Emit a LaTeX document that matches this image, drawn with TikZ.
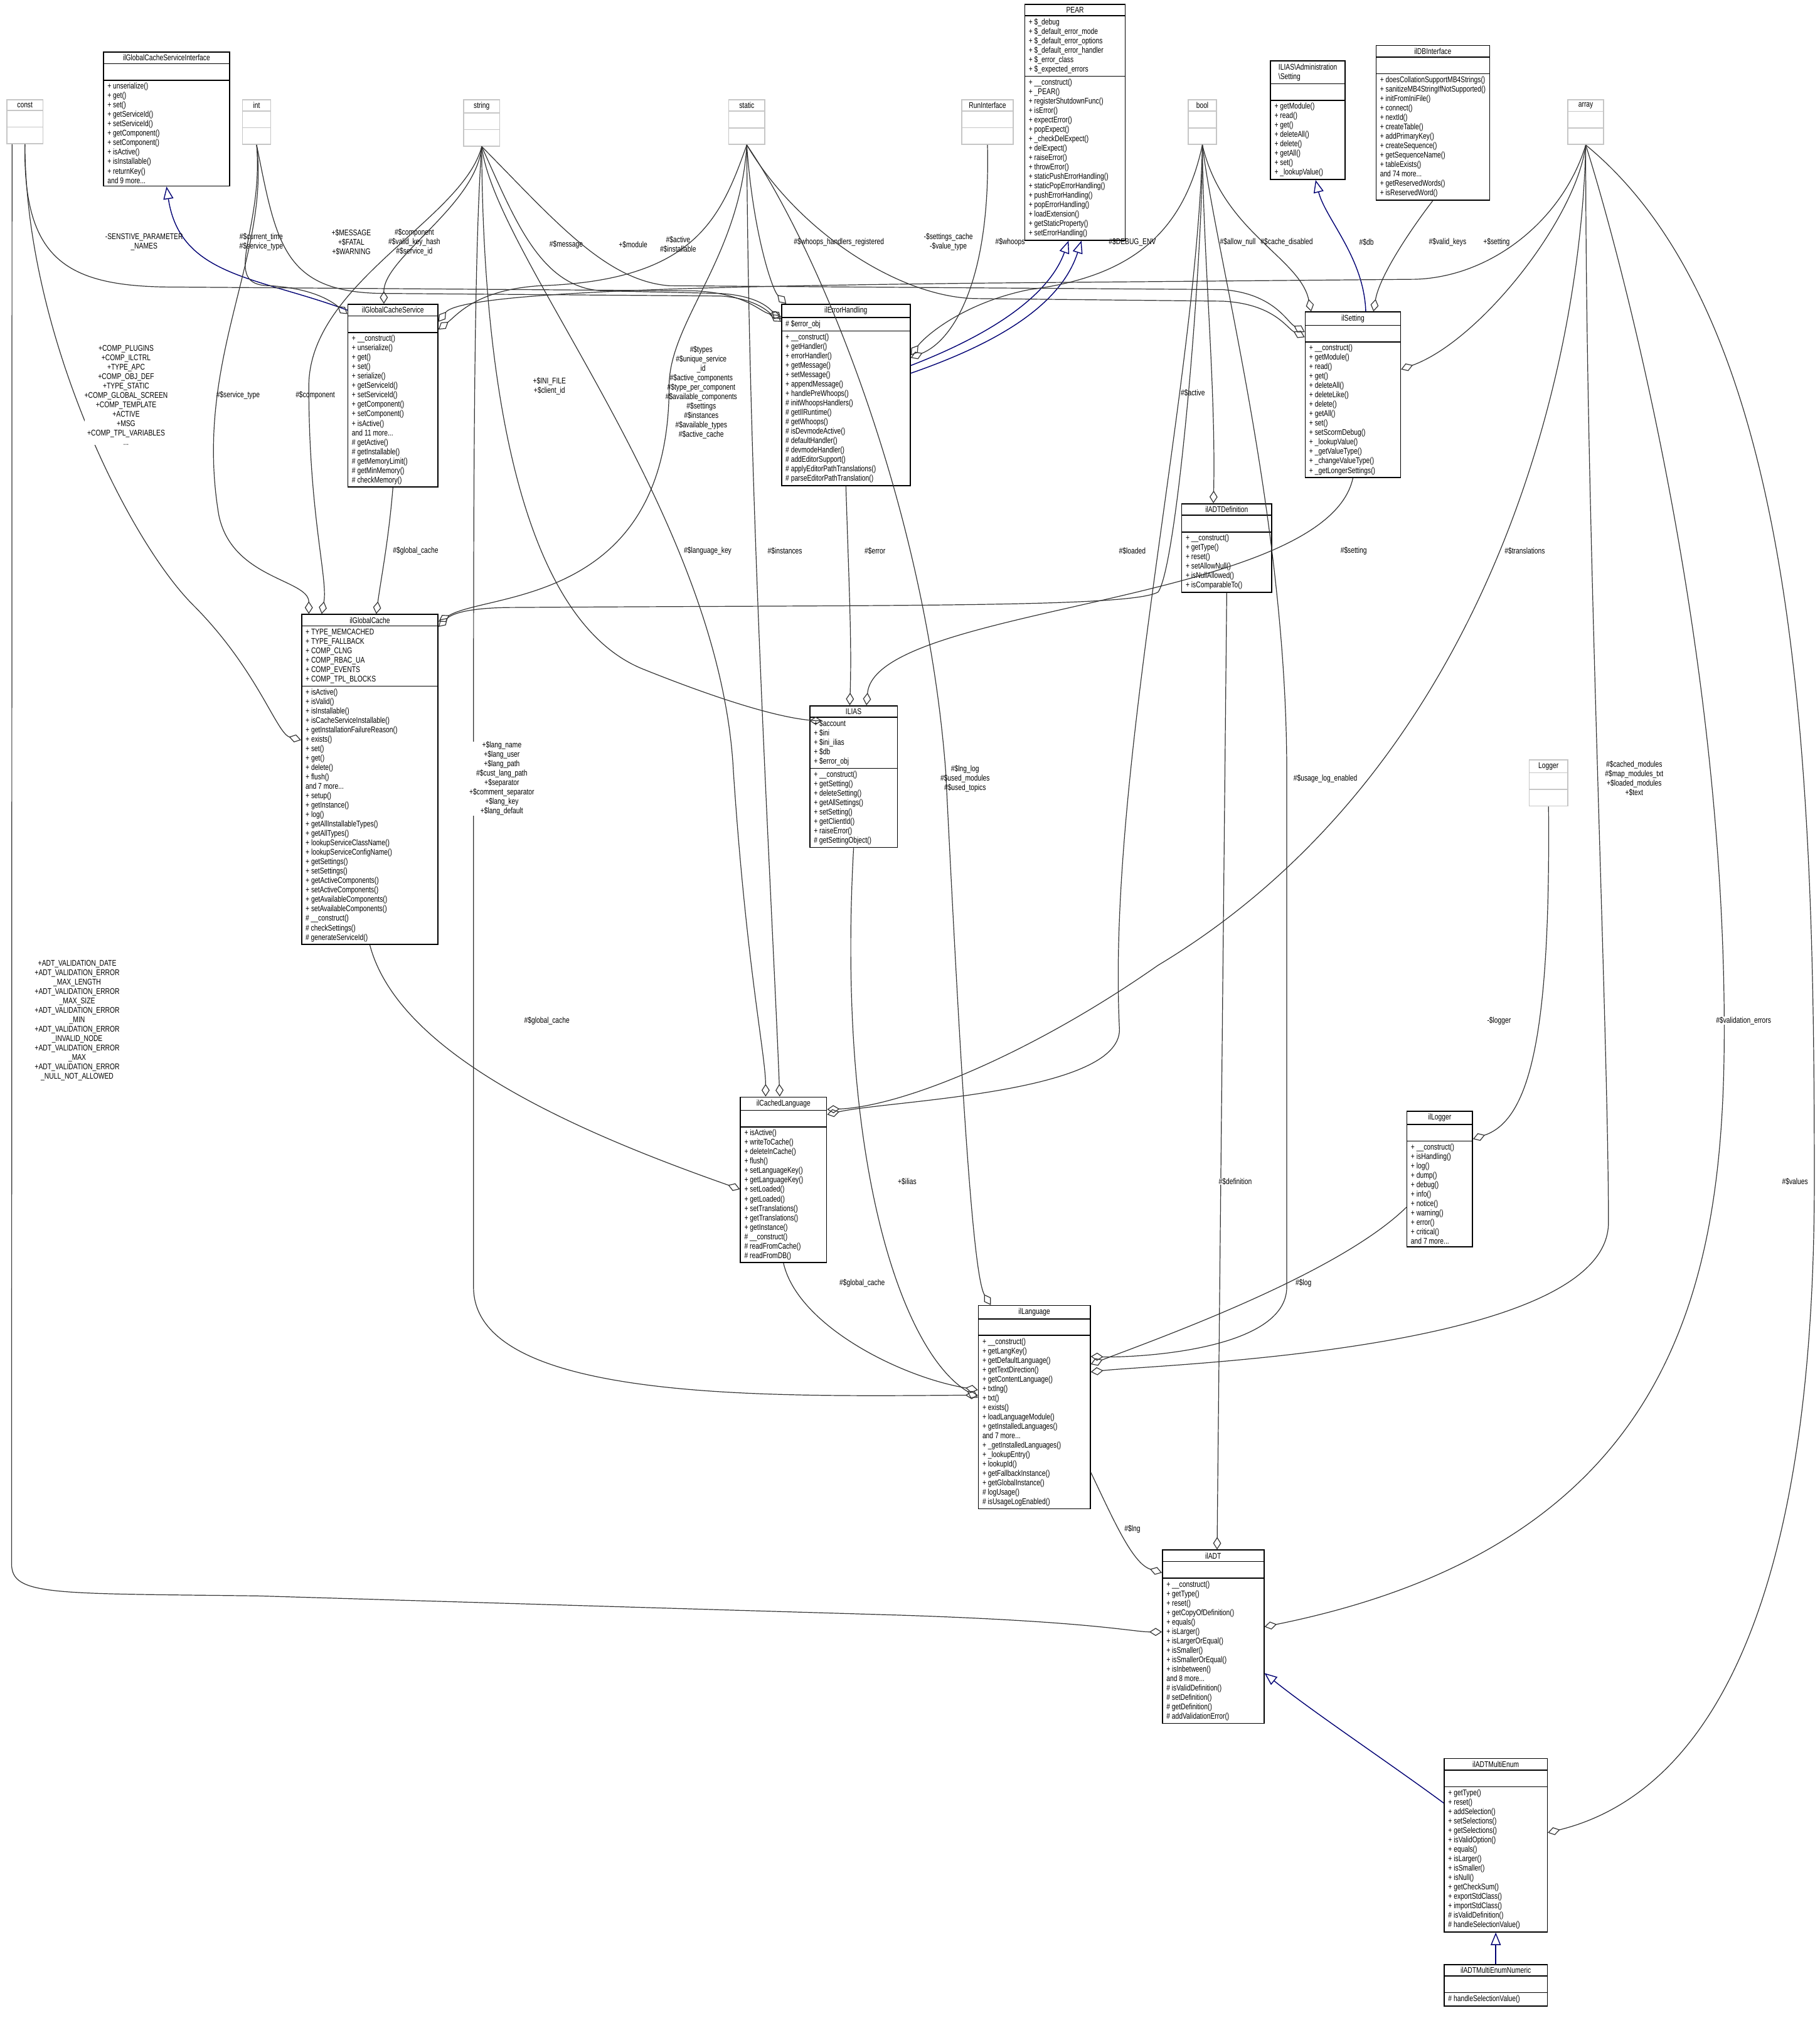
\documentclass[tikz,border=0pt]{standalone}
\usepackage{fontspec}
\setmainfont{Liberation Sans}[FakeStretch=0.78]
\usetikzlibrary{shapes.multipart,arrows.meta,calc}
\newcommand\fs{\fontsize{3.3}{3.75}\selectfont}
\newcommand\emp{\rule{0pt}{4.4pt}}
\newcommand\mkcls[7][cls]{\node[#1] (#2) at (#3,#4) {#5\nodepart{second}#6\nodepart{third}#7};}
\tikzset{
 cls/.style={draw=black, rectangle split, rectangle split parts=3, anchor=north west,
   inner xsep=1.6pt, inner ysep=0.9pt, font=\fs, align=left, fill=white, line width=0.4pt,
   rectangle split part align={center,left,left}},
 gcls/.style={cls, draw=gray!45, minimum width=14.3pt},
 agg/.style={draw=black!80, line width=0.3pt, -{Diamond[open,length=5pt,width=3.2pt]}},
 inh/.style={draw=blue!45!black, line width=0.35pt, -{Triangle[open,length=5pt,width=4pt]}},
 lbl/.style={font=\fs, align=center, inner sep=0pt},
}
\begin{document}
\begin{tikzpicture}[x=0.512pt,y=-0.512pt]
\useasboundingbox (0,0) rectangle (1414,1568);
% type boxes
\mkcls[gcls]{const}{5}{77}{const}{\emp}{\emp}
\mkcls[gcls,minimum width=11.3pt]{int}{188}{77}{int}{\emp}{\emp}
\mkcls[gcls]{string}{360}{77}{string}{\emp}{\emp}
\mkcls[gcls]{static}{566}{77}{static}{\emp}{\emp}
\mkcls[gcls,minimum width=20.5pt]{ri}{747}{77}{RunInterface}{\emp}{\emp}
\mkcls[gcls,minimum width=11.3pt]{bool}{923}{77}{bool}{\emp}{\emp}
\mkcls[gcls]{array}{1218}{77}{array}{\emp}{\emp}
\mkcls[gcls,minimum width=15.4pt]{logger}{1188}{590}{Logger}{\emp}{\emp}
% classes
\mkcls[cls,minimum width=50.2pt]{gcsi}{80}{40}{ilGlobalCacheServiceInterface}{\emp}{+ unserialize()\\+ get()\\+ set()\\+ getServiceId()\\+ setServiceId()\\+ getComponent()\\+ setComponent()\\+ isActive()\\+ isInstallable()\\+ returnKey()\\and 9 more...}
\mkcls[cls,minimum width=40pt]{pear}{796}{3}{PEAR}{+ \$\_debug\\+ \$\_default\_error\_mode\\+ \$\_default\_error\_options\\+ \$\_default\_error\_handler\\+ \$\_error\_class\\+ \$\_expected\_errors}{+ \_\_construct()\\+ \_PEAR()\\+ registerShutdownFunc()\\+ isError()\\+ expectError()\\+ popExpect()\\+ \_checkDelExpect()\\+ delExpect()\\+ raiseError()\\+ throwError()\\+ staticPushErrorHandling()\\+ staticPopErrorHandling()\\+ pushErrorHandling()\\+ popErrorHandling()\\+ loadExtension()\\+ getStaticProperty()\\+ setErrorHandling()}
\mkcls[cls,minimum width=29.7pt]{admset}{987}{47}{ILIAS\textbackslash Administration\\\textbackslash Setting}{\emp}{+ getModule()\\+ read()\\+ get()\\+ deleteAll()\\+ delete()\\+ getAll()\\+ set()\\+ \_lookupValue()}
\mkcls[cls,minimum width=44.5pt]{db}{1069}{35}{ilDBInterface}{\emp}{+ doesCollationSupportMB4Strings()\\+ sanitizeMB4StringIfNotSupported()\\+ initFromIniFile()\\+ connect()\\+ nextId()\\+ createTable()\\+ addPrimaryKey()\\+ createSequence()\\+ getSequenceName()\\+ tableExists()\\and 74 more...\\+ getReservedWords()\\+ isReservedWord()}
\mkcls[cls,minimum width=35.8pt]{gcs}{270}{236}{ilGlobalCacheService}{\emp}{+ \_\_construct()\\+ unserialize()\\+ get()\\+ set()\\+ serialize()\\+ getServiceId()\\+ setServiceId()\\+ getComponent()\\+ setComponent()\\+ isActive()\\and 11 more...\\\# getActive()\\\# getInstallable()\\\# getMemoryLimit()\\\# getMinMemory()\\\# checkMemory()}
\mkcls[cls,minimum width=51.2pt]{eh}{607}{236}{ilErrorHandling}{\# \$error\_obj}{+ \_\_construct()\\+ getHandler()\\+ errorHandler()\\+ getMessage()\\+ setMessage()\\+ appendMessage()\\+ handlePreWhoops()\\\# initWhoopsHandlers()\\\# getIlRuntime()\\\# getWhoops()\\\# isDevmodeActive()\\\# defaultHandler()\\\# devmodeHandler()\\\# addEditorSupport()\\\# applyEditorPathTranslations()\\\# parseEditorPathTranslation()}
\mkcls[cls,minimum width=37.9pt]{ils}{1014}{242}{ilSetting}{\emp}{+ \_\_construct()\\+ getModule()\\+ read()\\+ get()\\+ deleteAll()\\+ deleteLike()\\+ delete()\\+ getAll()\\+ set()\\+ setScormDebug()\\+ \_lookupValue()\\+ \_getValueType()\\+ \_changeValueType()\\+ \_getLongerSettings()}
\mkcls[cls,minimum width=35.8pt]{adtd}{918}{391}{ilADTDefinition}{\emp}{+ \_\_construct()\\+ getType()\\+ reset()\\+ setAllowNull()\\+ isNullAllowed()\\+ isComparableTo()}
\mkcls[cls,minimum width=54.3pt]{gc}{234}{477}{ilGlobalCache}{+ TYPE\_MEMCACHED\\+ TYPE\_FALLBACK\\+ COMP\_CLNG\\+ COMP\_RBAC\_UA\\+ COMP\_EVENTS\\+ COMP\_TPL\_BLOCKS}{+ isActive()\\+ isValid()\\+ isInstallable()\\+ isCacheServiceInstallable()\\+ getInstallationFailureReason()\\+ exists()\\+ set()\\+ get()\\+ delete()\\+ flush()\\and 7 more...\\+ setup()\\+ getInstance()\\+ log()\\+ getAllInstallableTypes()\\+ getAllTypes()\\+ lookupServiceClassName()\\+ lookupServiceConfigName()\\+ getSettings()\\+ setSettings()\\+ getActiveComponents()\\+ setActiveComponents()\\+ getAvailableComponents()\\+ setAvailableComponents()\\\# \_\_construct()\\\# checkSettings()\\\# generateServiceId()}
\mkcls[cls,minimum width=34.8pt]{ilias}{629}{548}{ILIAS}{+ \$account\\+ \$ini\\+ \$ini\_ilias\\+ \$db\\+ \$error\_obj}{+ \_\_construct()\\+ getSetting()\\+ deleteSetting()\\+ getAllSettings()\\+ setSetting()\\+ getClientId()\\+ raiseError()\\\# getSettingObject()}
\mkcls[cls,minimum width=34.3pt]{cl}{575}{852}{ilCachedLanguage}{\emp}{+ isActive()\\+ writeToCache()\\+ deleteInCache()\\+ flush()\\+ setLanguageKey()\\+ getLanguageKey()\\+ setLoaded()\\+ getLoaded()\\+ setTranslations()\\+ getTranslations()\\+ getInstance()\\\# \_\_construct()\\\# readFromCache()\\\# readFromDB()}
\mkcls[cls,minimum width=26.1pt]{ill}{1093}{863}{ilLogger}{\emp}{+ \_\_construct()\\+ isHandling()\\+ log()\\+ dump()\\+ debug()\\+ info()\\+ notice()\\+ warning()\\+ error()\\+ critical()\\and 7 more...}
\mkcls[cls,minimum width=44.5pt]{il}{760}{1014}{ilLanguage}{\emp}{+ \_\_construct()\\+ getLangKey()\\+ getDefaultLanguage()\\+ getTextDirection()\\+ getContentLanguage()\\+ txtlng()\\+ txt()\\+ exists()\\+ loadLanguageModule()\\+ getInstalledLanguages()\\and 7 more...\\+ \_getInstalledLanguages()\\+ \_lookupEntry()\\+ lookupId()\\+ getFallbackInstance()\\+ getGlobalInstance()\\\# logUsage()\\\# isUsageLogEnabled()}
\mkcls[cls,minimum width=40.4pt]{adt}{903}{1204}{ilADT}{\emp}{+ \_\_construct()\\+ getType()\\+ reset()\\+ getCopyOfDefinition()\\+ equals()\\+ isLarger()\\+ isLargerOrEqual()\\+ isSmaller()\\+ isSmallerOrEqual()\\+ isInbetween()\\and 8 more...\\\# isValidDefinition()\\\# setDefinition()\\\# getDefinition()\\\# addValidationError()}
\mkcls[cls,minimum width=41pt]{ame}{1122}{1366}{ilADTMultiEnum}{\emp}{+ getType()\\+ reset()\\+ addSelection()\\+ setSelections()\\+ getSelections()\\+ isValidOption()\\+ equals()\\+ isLarger()\\+ isSmaller()\\+ isNull()\\+ getCheckSum()\\+ exportStdClass()\\+ importStdClass()\\\# isValidDefinition()\\\# handleSelectionValue()}
\mkcls[cls,minimum width=41pt,rectangle split part fill={gray!55,white,white}]{amen}{1122}{1526}{ilADTMultiEnumNumeric}{\emp}{\# handleSelectionValue()}

% inheritance
\draw[inh] ($(gcs.north west)+(0,5)$) .. controls (200,215) and (140,215) .. (gcsi.south);
\draw[inh] ($(eh.north east)+(0,48)$) .. controls (770,260) and (815,230) .. ($(pear.south)+(-5,0)$);
\draw[inh] ($(eh.north east)+(0,54)$) .. controls (780,265) and (825,235) .. ($(pear.south)+(5,0)$);
\draw[inh] ($(ils.north)+(10,0)$) .. controls (1060,200) and (1030,170) .. ($(admset.south)+(6,0)$);
\draw[inh] ($(ame.north west)+(0,35)$) .. controls (1080,1370) and (1020,1330) .. ($(adt.north east)+(0,96)$);
\draw[inh] (amen.north) -- (ame.south);

% aggregations
\draw[agg] (const.south) .. controls (18,200) and (50,222) .. (130,223) -- (540,226) .. controls (580,228) and (590,242) .. ($(eh.north west)+(0,10)$);
\node[lbl] (l1) at (112,188) {-SENSTIVE\_PARAMETER\\\_NAMES};
\draw[agg] (int.south) .. controls (205,180) and (170,222) .. (210,222) .. controls (240,224) and (255,232) .. ($(gcs.north west)+(0,8)$);
\node[lbl] (l2) at (203,188) {\#\$current\_time\\\#\$service\_type};
\draw[agg] (int.south) .. controls (215,190) and (220,228) .. (300,228) -- (560,230) .. controls (590,232) and (600,245) .. ($(eh.north west)+(0,14)$);
\node[lbl] (l3) at (273,188) {+\$MESSAGE\\+\$FATAL\\+\$WARNING};
\draw[agg] (int.south) .. controls (210,200) and (150,280) .. (170,400) .. controls (180,450) and (240,450) .. ($(gc.north west)+(6,0)$);
\node[lbl] (l4) at (185,307) {\#\$service\_type};
\draw[agg] (string.south) .. controls (370,160) and (298,200) .. ($(gcs.north)+(-7,0)$);
\node[lbl] (l5) at (322,188) {\#\$component\\\#\$valid\_key\_hash\\\#\$service\_id};
\draw[agg] (string.south) .. controls (360,170) and (240,220) .. (240,300) .. controls (240,400) and (255,450) .. ($(gc.north west)+(16,0)$);
\node[lbl] (l6) at (245,307) {\#\$component};
\draw[agg] (string.south) .. controls (400,170) and (420,225) .. (470,226) -- (560,228) .. controls (590,230) and (598,240) .. ($(eh.north west)+(0,12)$);
\node[lbl] (l7) at (440,190) {\#\$message};
\draw[agg] (string.south) .. controls (430,170) and (470,218) .. (520,222) -- (950,225) .. controls (990,228) and (1000,250) .. ($(ils.north west)+(0,16)$);
\node[lbl] (l8) at (492,190) {+\$module};
\draw[agg] (string.south) .. controls (375,280) and (400,480) .. (500,520) .. controls (600,560) and (630,560) .. ($(ilias.north west)+(0,12)$);
\node[lbl] (l9) at (427,300) {+\$INI\_FILE\\+\$client\_id};
\draw[agg] (string.south) .. controls (385,200) and (560,400) .. (570,600) .. controls (580,750) and (595,820) .. ($(cl.north west)+(20,0)$);
\node[lbl] (l10) at (550,428) {\#\$language\_key};
\draw[agg] (string.south) .. controls (368,200) and (368,400) .. (368,600) -- (368,1000) .. controls (368,1090) and (600,1085) .. ($(il.north west)+(0,70)$);
\node[lbl,fill=white] (l11) at (390,605) {+\$lang\_name\\+\$lang\_user\\+\$lang\_path\\\#\$cust\_lang\_path\\+\$separator\\+\$comment\_separator\\+\$lang\_key\\+\$lang\_default};
\draw[agg] (static.south) .. controls (560,170) and (540,218) .. (420,222) .. controls (370,225) and (355,245) .. ($(gcs.north east)+(0,20)$);
\node[lbl] (l12) at (527,190) {\#\$active\\\#\$installable};
\draw[agg] (static.south) .. controls (585,180) and (600,225) .. ($(eh.north west)+(4,0)$);
\node[lbl] (l13) at (652,188) {\#\$whoops\_handlers\_registered};
\draw[agg] (static.south) .. controls (575,200) and (520,250) .. (520,300) .. controls (520,470) and (380,460) .. ($(gc.north east)+(0,6)$);
\node[lbl] (l14) at (545,305) {\#\$types\\\#\$unique\_service\\\_id\\\#\$active\_components\\\#\$type\_per\_component\\\#\$available\_components\\\#\$settings\\\#\$instances\\\#\$available\_types\\\#\$active\_cache};
\draw[agg] (static.south) .. controls (582,400) and (600,700) .. ($(cl.north west)+(31,0)$);
\node[lbl] (l15) at (610,428) {\#\$instances};
\draw[agg] (static.south) .. controls (620,180) and (700,232) .. (760,232) -- (950,234) .. controls (990,236) and (1000,255) .. ($(ils.north west)+(0,20)$);
\node[lbl] (l16) at (737,188) {-\$settings\_cache\\-\$value\_type};
\draw[agg] (static.south) .. controls (640,200) and (720,400) .. (735,600) .. controls (745,800) and (755,990) .. ($(il.north west)+(10,0)$);
\node[lbl] (l17) at (750,605) {\#\$lng\_log\\\#\$used\_modules\\\#\$used\_topics};
\draw[agg] (ri.south) .. controls (770,220) and (740,265) .. ($(eh.north east)+(0,42)$);
\node[lbl] (l18) at (785,188) {\#\$whoops};
\draw[agg] (bool.south) .. controls (920,180) and (880,215) .. (800,225) .. controls (750,235) and (720,260) .. ($(eh.north east)+(0,40)$);
\node[lbl] (l19) at (880,188) {\#\$DEBUG\_ENV};
\draw[agg] (bool.south) .. controls (950,180) and (1010,200) .. ($(ils.north west)+(5,0)$);
\node[lbl] (l20) at (1000,188) {\#\$cache\_disabled};
\draw[agg] (bool.south) .. controls (935,200) and (945,300) .. ($(adtd.north west)+(25,0)$);
\node[lbl] (l21) at (962,188) {\#\$allow\_null};
\draw[agg] (bool.south) .. controls (935,200) and (915,440) .. (900,460) .. controls (880,472) and (700,470) .. (400,472) .. controls (360,472) and (350,478) .. ($(gc.north east)+(0,10)$);
\node[lbl] (l22) at (927,305) {\#\$active};
\draw[agg] (bool.south) .. controls (930,300) and (860,600) .. (870,800) .. controls (870,850) and (690,855) .. ($(cl.north east)+(0,14)$);
\node[lbl] (l23) at (880,428) {\#\$loaded};
\draw[agg] (bool.south) .. controls (945,200) and (1000,400) .. (1000,600) -- (1000,1000) .. controls (1000,1050) and (880,1055) .. ($(il.north east)+(0,40)$);
\node[lbl,fill=white] (l24) at (1030,605) {\#\$usage\_log\_enabled};
\draw[agg] (db.south) .. controls (1095,180) and (1072,215) .. ($(ils.north)+(16,0)$);
\node[lbl] (l25) at (1062,188) {\#\$db};
\draw[agg] (array.south) .. controls (1215,170) and (1160,215) .. (1100,217) -- (760,220) .. controls (600,222) and (360,225) .. ($(gcs.north east)+(0,14)$);
\node[lbl] (l26) at (1125,188) {\#\$valid\_keys};
\draw[agg] (array.south) .. controls (1225,170) and (1150,265) .. ($(ils.north east)+(0,45)$);
\node[lbl] (l27) at (1163,188) {+\$setting};
\draw[agg] (array.south) .. controls (1228,300) and (1150,600) .. (900,750) .. controls (800,820) and (700,860) .. ($(cl.north east)+(0,10)$);
\node[lbl,fill=white] (l28) at (1185,428) {\#\$translations};
\draw[agg] (array.south) .. controls (1232,400) and (1250,800) .. (1250,950) .. controls (1250,1050) and (900,1060) .. ($(il.north east)+(0,52)$);
\node[lbl,fill=white] (l29) at (1270,605) {\#\$cached\_modules\\\#\$map\_modules\_txt\\+\$loaded\_modules\\+\$text};
\draw[agg] (array.south) .. controls (1260,200) and (1340,500) .. (1340,800) .. controls (1340,1000) and (1300,1200) .. ($(adt.north east)+(0,60)$);
\node[lbl,fill=white] (l30) at (1355,793) {\#\$validation\_errors};
\draw[agg] (array.south) .. controls (1400,250) and (1410,600) .. (1410,918) .. controls (1410,1300) and (1300,1400) .. ($(ame.north east)+(0,58)$);
\node[lbl,fill=white] (l31) at (1395,918) {\#\$values};
\draw[agg] (gcs.south) .. controls (302,420) and (296,450) .. ($(gc.north)+(5,0)$);
\node[lbl] (l32) at (323,428) {\#\$global\_cache};
\draw[agg] (gc.south) .. controls (310,820) and (450,880) .. ($(cl.north west)+(0,72)$);
\node[lbl,fill=white] (l33) at (425,793) {\#\$global\_cache};
\draw[agg] (cl.south) .. controls (620,1030) and (700,1070) .. ($(il.north west)+(0,66)$);
\node[lbl,fill=white] (l34) at (670,997) {\#\$global\_cache};
\draw[agg] (eh.south) .. controls (660,460) and (662,500) .. ($(ilias.north)+(-3,0)$);
\node[lbl,fill=white] (l35) at (680,428) {\#\$error};
\draw[agg] (ils.south) .. controls (1030,470) and (680,470) .. ($(ilias.north)+(10,0)$);
\node[lbl,fill=white] (l36) at (1052,428) {\#\$setting};
\draw[agg] (ilias.south) .. controls (650,900) and (700,1050) .. ($(il.north west)+(0,72)$);
\node[lbl,fill=white] (l37) at (705,918) {+\$ilias};
\draw[agg] (logger.south) .. controls (1205,800) and (1190,870) .. ($(ill.north east)+(0,22)$);
\node[lbl,fill=white] (l38) at (1165,793) {-\$logger};
\draw[agg] ($(ill.north west)+(0,75)$) .. controls (1040,990) and (900,1040) .. ($(il.north east)+(0,46)$);
\node[lbl,fill=white] (l39) at (1013,997) {\#\$log};
\draw[agg] ($(il.north east)+(0,130)$) .. controls (865,1180) and (880,1215) .. ($(adt.north west)+(0,18)$);
\node[lbl,fill=white] (l40) at (880,1188) {\#\$lng};
\draw[agg] (adtd.south) -- ($(adt.north)+(3,0)$);
\node[lbl,fill=white] (l41) at (960,918) {\#\$definition};
\draw[agg] (const.south) .. controls (20,260) and (100,420) .. (150,470) .. controls (200,520) and (215,570) .. ($(gc.north west)+(0,98)$);
\node[lbl,fill=white] (l42) at (98,307) {+COMP\_PLUGINS\\+COMP\_ILCTRL\\+TYPE\_APC\\+COMP\_OBJ\_DEF\\+TYPE\_STATIC\\+COMP\_GLOBAL\_SCREEN\\+COMP\_TEMPLATE\\+ACTIVE\\+MSG\\+COMP\_TPL\_VARIABLES\\...};
\draw[agg] ($(const.south)+(-10,0)$) -- (9,1215) .. controls (9,1240) and (40,1238) .. (200,1240) -- (700,1255) .. controls (850,1260) and (880,1268) .. ($(adt.north west)+(0,64)$);
\node[lbl,fill=white] (l43) at (60,793) {+ADT\_VALIDATION\_DATE\\+ADT\_VALIDATION\_ERROR\\\_MAX\_LENGTH\\+ADT\_VALIDATION\_ERROR\\\_MAX\_SIZE\\+ADT\_VALIDATION\_ERROR\\\_MIN\\+ADT\_VALIDATION\_ERROR\\\_INVALID\_NODE\\+ADT\_VALIDATION\_ERROR\\\_MAX\\+ADT\_VALIDATION\_ERROR\\\_NULL\_NOT\_ALLOWED};
\end{tikzpicture}
\end{document}
